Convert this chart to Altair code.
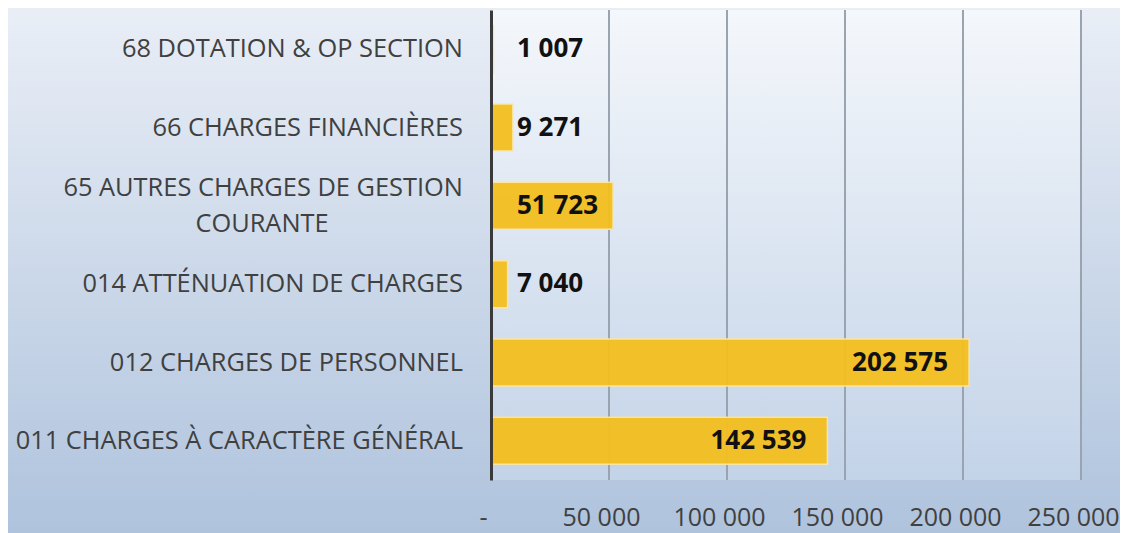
import altair as alt
import pandas as pd

# ---- data ----
categories = [
    "68 DOTATION & OP SECTION",
    "66 CHARGES FINANCIÈRES",
    "65 AUTRES CHARGES DE GESTION COURANTE",
    "014 ATTÉNUATION DE CHARGES",
    "012 CHARGES DE PERSONNEL",
    "011 CHARGES À CARACTÈRE GÉNÉRAL",
]
label_line1 = [
    "68 DOTATION & OP SECTION",
    "66 CHARGES FINANCIÈRES",
    "65 AUTRES CHARGES DE GESTION",
    "014 ATTÉNUATION DE CHARGES",
    "012 CHARGES DE PERSONNEL",
    "011 CHARGES À CARACTÈRE GÉNÉRAL",
]
label_line2 = ["", "", "COURANTE", "", "", ""]
values = [1007, 9271, 51723, 7040, 202575, 142539]
tick_values = [0, 50000, 100000, 150000, 200000, 250000]

df = pd.DataFrame({
    "cat": categories,
    "line1": label_line1,
    "line2": label_line2,
    "value": values,
    "label": [f"{v:,}".replace(",", " ") for v in values],
})
df["two"] = df["line2"] != ""
grid_df = pd.DataFrame({"t": tick_values[1:]})
one = pd.DataFrame({"k": [0]})

W, H = 590, 470
PADL, PADT, PADR, PADB = 483, 2, 39, 53

FONT = "Open Sans"
FS = 26      # value labels
FS_CAT = 25.4
FS_TICK = 25

xscale = alt.Scale(domain=[0, 250000], nice=False, zero=True)
xaxis = alt.Axis(
    values=tick_values,
    labelExpr="datum.value == 0 ? '-' : replace(format(datum.value, ',d'), ',', ' ')",
    labelFont=FONT, labelFontSize=FS_TICK, labelColor="#404040",
    labelPadding=25, labelOffset=-8, labelFlush=False, labelOverlap=False,
    ticks=False, domain=False, grid=False, title=None, zindex=1,
)
yscale = alt.Scale(paddingInner=0.4, paddingOuter=0.2)
yaxis = alt.Axis(
    labels=False, ticks=False, domain=True, domainColor="#3A3A3A",
    domainWidth=3, grid=False, title=None, zindex=1,
)
Y = alt.Y("cat:N", sort=categories, scale=yscale, axis=yaxis)

outer_grad = alt.LinearGradient(
    gradient="linear", x1=0, y1=0, x2=0, y2=1,
    stops=[alt.GradientStop(color="#E9EEF6", offset=0),
           alt.GradientStop(color="#AFC3DD", offset=1)],
)
inner_grad = alt.LinearGradient(
    gradient="linear", x1=0, y1=0, x2=0, y2=1,
    stops=[alt.GradientStop(color="#F4F7FB", offset=0),
           alt.GradientStop(color="#C3D3E8", offset=1)],
)

bg = alt.Chart(one).mark_rect(fill=outer_grad).encode(
    x=alt.value(-PADL), x2=alt.value(W + PADR),
    y=alt.value(-PADT), y2=alt.value(H + PADB),
)
plotbg = alt.Chart(one).mark_rect(fill=inner_grad).encode(
    x=alt.value(0), x2=alt.value(W), y=alt.value(0), y2=alt.value(H),
)
grid = alt.Chart(grid_df).mark_rule(color="#9AA3B0", strokeWidth=2).encode(
    x=alt.X("t:Q", scale=xscale, axis=xaxis),
)
bars = alt.Chart(df).mark_bar(
    color="#F4BF1F", stroke="#FBE6A2", strokeWidth=1.5, opacity=0.95
).encode(
    x=alt.X("value:Q", scale=xscale, axis=xaxis),
    y=Y,
)
big_txt = alt.Chart(df).transform_filter("datum.value >= 100000").mark_text(
    align="right", baseline="middle", dx=-21, font=FONT, fontSize=FS,
    fontWeight="bold", color="#111111",
).encode(x=alt.X("value:Q", scale=xscale, axis=xaxis), y=Y, text="label:N")
small_txt = alt.Chart(df).transform_filter("datum.value < 100000").mark_text(
    align="left", baseline="middle", dx=26, font=FONT, fontSize=FS,
    fontWeight="bold", color="#111111",
).encode(x=alt.datum(0, scale=xscale), y=Y, text="label:N")

cat_single = alt.Chart(df).transform_filter("!datum.two").mark_text(
    align="right", baseline="middle", font=FONT, fontSize=FS_CAT, color="#404040",
).encode(x=alt.value(-28), y=Y, text="line1:N")
cat_first = alt.Chart(df).transform_filter("datum.two").mark_text(
    align="right", baseline="middle", dy=-18, font=FONT, fontSize=FS_CAT, color="#404040",
).encode(x=alt.value(-28), y=Y, text="line1:N")
cat_second = alt.Chart(df).transform_filter("datum.two").mark_text(
    align="center", baseline="middle", dy=18, font=FONT, fontSize=FS_CAT, color="#404040",
).encode(x=alt.value(-229), y=Y, text="line2:N")

chart = alt.layer(
    bg, plotbg, grid, bars, big_txt, small_txt, cat_single, cat_first, cat_second
).properties(
    width=W, height=H,
    autosize="none",
    padding={"left": PADL, "top": PADT, "right": PADR, "bottom": PADB},
    background="#C9D6E8",
).configure_view(stroke=None)

chart.save("out.html", embed_options={"renderer": "svg", "actions": False})
